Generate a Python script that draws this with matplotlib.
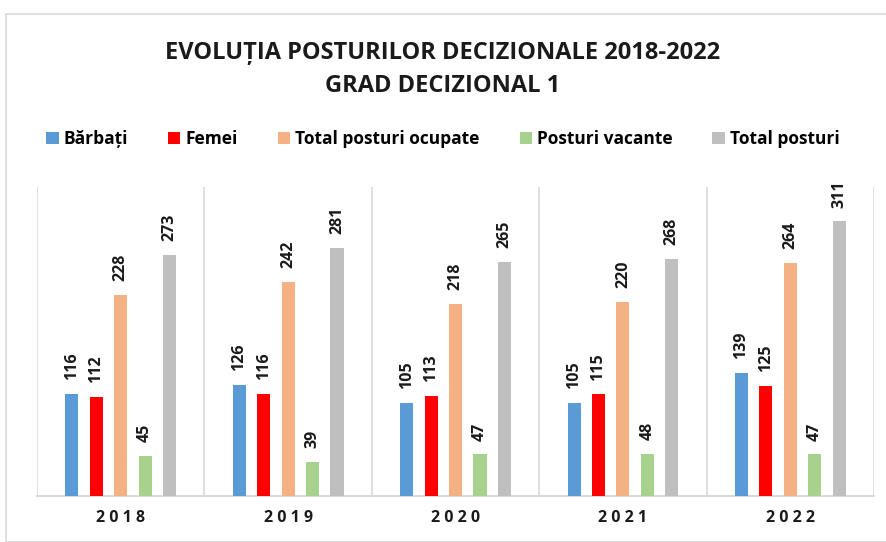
import numpy as np
import matplotlib.pyplot as plt
from matplotlib.patches import Rectangle

years = ['2018', '2019', '2020', '2021', '2022']
series_names = ['Bărbați', 'Femei', 'Total posturi ocupate', 'Posturi vacante', 'Total posturi']
barbati = [116, 126, 105, 105, 139]
femei = [112, 116, 113, 115, 125]
total_ocupate = [228, 242, 218, 220, 264]
vacante = [45, 39, 47, 48, 47]
total_posturi = [273, 281, 265, 268, 311]
colors = ['#5b9bd5', '#ff0000', '#f4b183', '#a9d18e', '#bfbfbf']

plt.rcParams['font.family'] = ['Open Sans', 'DejaVu Sans']

fig = plt.figure(figsize=(8.86, 5.42), dpi=100)
ax = fig.add_axes([0.0418, 0.0849, 0.9447, 0.5701])

x = np.arange(len(years))
bar_w = 0.078
step = 0.146
all_series = [barbati, femei, total_ocupate, vacante, total_posturi]
for i, (vals, name, c) in enumerate(zip(all_series, series_names, colors)):
    pos = x + (i - 2) * step
    ax.bar(pos, vals, width=bar_w, color=c, label=name, zorder=3)
    for p, v in zip(pos, vals):
        ax.annotate(str(v), (p, v), xytext=(0, 10), textcoords='offset points',
                    rotation=90, ha='center', va='bottom', fontsize=11.5,
                    fontweight='bold', color='#1a1a1a')

ax.set_xlim(-0.5, len(years) - 0.5)
ax.set_ylim(0, 350)
ax.set_yticks([])
ax.set_xticks(x)
ax.set_xticklabels([' '.join(y) for y in years], fontsize=11.5, fontweight='bold', color='#1a1a1a')
ax.tick_params(axis='x', length=0, pad=10)
for b in np.arange(-0.5, len(years), 1.0):
    ax.axvline(b, color='#d9d9d9', lw=1.2, zorder=1)
for s in ['top', 'right', 'left']:
    ax.spines[s].set_visible(False)
ax.spines['bottom'].set_color('#d9d9d9')
ax.spines['bottom'].set_linewidth(1.5)

fig.text(0.5, 0.903, 'EVOLUȚIA POSTURILOR DECIZIONALE 2018-2022', ha='center', va='center',
         fontsize=17, fontweight='bold', color='#1a1a1a')
fig.text(0.5, 0.842, 'GRAD DECIZIONAL 1', ha='center', va='center',
         fontsize=17, fontweight='bold', color='#1a1a1a')

fig.legend(loc='center', bbox_to_anchor=(0.5, 0.743), ncol=5, frameon=False,
           prop={'size': 12.5, 'weight': 'bold'}, handlelength=0.7, handleheight=0.7,
           handletextpad=0.3, columnspacing=2.3)

fig.add_artist(Rectangle((6 / 886, 0), 1.2, (542 - 14) / 542, transform=fig.transFigure,
                         fill=False, edgecolor='#d9d9d9', lw=1.2))

fig.savefig('out.png', dpi=100)
